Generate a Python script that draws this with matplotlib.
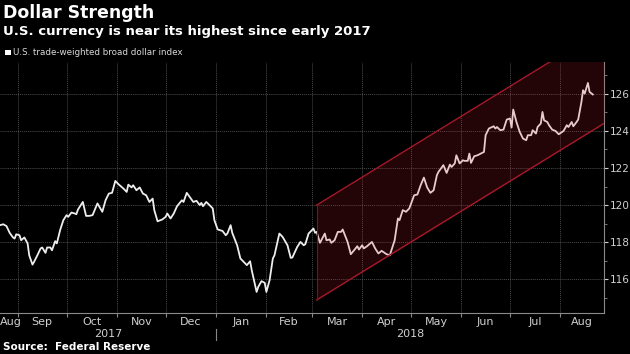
import matplotlib.pyplot as plt
import matplotlib.dates as mdates
import matplotlib.transforms as mtransforms
from matplotlib.lines import Line2D
from matplotlib.patches import Rectangle
import pandas as pd

# U.S. trade-weighted broad dollar index
dates = [
    '2017-08-21', '2017-08-23', '2017-08-25', '2017-08-27', '2017-08-29', '2017-08-30', '2017-08-31',
    '2017-09-02', '2017-09-03', '2017-09-05', '2017-09-07', '2017-09-08', '2017-09-10', '2017-09-11',
    '2017-09-13', '2017-09-15', '2017-09-16', '2017-09-18', '2017-09-19', '2017-09-21', '2017-09-22',
    '2017-09-24', '2017-09-25', '2017-09-27', '2017-09-29', '2017-10-01', '2017-10-02', '2017-10-04',
    '2017-10-06', '2017-10-07', '2017-10-08', '2017-10-11', '2017-10-13', '2017-10-15', '2017-10-17',
    '2017-10-20', '2017-10-23', '2017-10-25', '2017-10-27', '2017-10-29', '2017-10-31', '2017-11-02',
    '2017-11-05', '2017-11-07', '2017-11-08', '2017-11-10', '2017-11-11', '2017-11-13', '2017-11-15',
    '2017-11-17', '2017-11-19', '2017-11-21', '2017-11-23', '2017-11-24', '2017-11-26', '2017-11-29',
    '2017-12-01', '2017-12-02', '2017-12-04', '2017-12-06', '2017-12-08', '2017-12-11', '2017-12-12',
    '2017-12-14', '2017-12-17', '2017-12-18', '2017-12-20', '2017-12-22', '2017-12-23', '2017-12-24',
    '2017-12-26', '2017-12-28', '2017-12-30', '2017-12-31',
    '2018-01-02', '2018-01-05', '2018-01-07', '2018-01-08', '2018-01-10', '2018-01-11', '2018-01-14',
    '2018-01-16', '2018-01-18', '2018-01-20', '2018-01-22', '2018-01-23', '2018-01-26', '2018-01-27',
    '2018-01-29', '2018-01-31', '2018-02-01', '2018-02-03', '2018-02-05', '2018-02-06', '2018-02-09',
    '2018-02-11', '2018-02-14', '2018-02-16', '2018-02-17', '2018-02-20', '2018-02-22', '2018-02-24',
    '2018-02-25', '2018-02-27', '2018-03-02', '2018-03-03', '2018-03-04', '2018-03-06', '2018-03-09',
    '2018-03-10', '2018-03-12', '2018-03-13', '2018-03-15', '2018-03-17', '2018-03-19', '2018-03-20',
    '2018-03-23', '2018-03-25', '2018-03-27', '2018-03-29', '2018-03-30', '2018-04-01', '2018-04-02',
    '2018-04-04', '2018-04-07', '2018-04-09', '2018-04-11', '2018-04-13', '2018-04-16', '2018-04-18',
    '2018-04-21', '2018-04-23', '2018-04-24', '2018-04-26', '2018-04-28', '2018-04-30', '2018-05-03',
    '2018-05-05', '2018-05-07', '2018-05-09', '2018-05-11', '2018-05-13', '2018-05-15', '2018-05-17',
    '2018-05-18', '2018-05-21', '2018-05-23', '2018-05-25', '2018-05-26', '2018-05-28', '2018-05-29',
    '2018-05-31', '2018-06-02', '2018-06-03', '2018-06-05', '2018-06-06', '2018-06-07', '2018-06-09',
    '2018-06-11', '2018-06-13', '2018-06-15', '2018-06-16', '2018-06-18', '2018-06-21', '2018-06-22',
    '2018-06-23', '2018-06-25', '2018-06-27', '2018-06-29', '2018-07-01', '2018-07-02', '2018-07-03',
    '2018-07-05', '2018-07-07', '2018-07-09', '2018-07-11', '2018-07-12', '2018-07-14', '2018-07-15',
    '2018-07-17', '2018-07-18', '2018-07-20', '2018-07-21', '2018-07-22', '2018-07-24', '2018-07-25',
    '2018-07-27', '2018-07-29', '2018-07-31', '2018-08-03', '2018-08-05', '2018-08-06', '2018-08-08',
    '2018-08-09', '2018-08-11', '2018-08-12', '2018-08-14', '2018-08-15', '2018-08-16', '2018-08-18',
    '2018-08-19', '2018-08-21',
]
values = [
    118.92, 118.97, 118.87, 118.50, 118.26, 118.20, 118.43,
    118.38, 118.11, 118.26, 117.94, 117.30, 116.80, 116.95,
    117.30, 117.67, 117.72, 117.43, 117.72, 117.72, 117.57,
    118.06, 117.94, 118.65, 119.19, 119.46, 119.37, 119.60,
    119.55, 119.51, 119.76, 120.17, 119.42, 119.42, 119.46,
    120.09, 119.64, 120.26, 120.62, 120.66, 121.30, 121.12,
    120.89, 120.71, 121.10, 120.95, 121.07, 120.80, 120.95,
    120.62, 120.53, 120.17, 120.35, 119.73, 119.13, 119.23,
    119.37, 119.55, 119.28, 119.55, 119.94, 120.26, 120.17,
    120.66, 120.30, 120.17, 120.23, 120.00, 120.12, 119.94,
    120.17, 120.00, 119.82, 119.19,
    118.69, 118.61, 118.38, 118.47, 118.92, 118.51, 117.84,
    117.13, 116.95, 116.77, 116.98, 116.50, 115.33, 115.60,
    115.91, 115.82, 115.33, 115.96, 117.13, 117.30, 118.47,
    118.29, 117.84, 117.16, 117.18, 117.75, 118.02, 117.84,
    117.90, 118.47, 118.74, 118.51, 118.56, 117.97, 118.47,
    118.11, 118.15, 117.97, 118.11, 118.56, 118.56, 118.69,
    118.02, 117.36, 117.57, 117.79, 117.61, 117.84, 117.67,
    117.79, 118.02, 117.67, 117.40, 117.54, 117.36, 117.30,
    118.11, 119.28, 119.19, 119.73, 119.64, 119.82, 120.53,
    120.57, 121.07, 121.48, 120.95, 120.66, 120.80, 121.61,
    121.79, 122.15, 121.73, 122.18, 122.05, 122.24, 122.68,
    122.24, 122.41, 122.38, 122.38, 122.77, 122.27, 122.63,
    122.68, 122.77, 122.86, 123.76, 124.12, 124.24, 124.12,
    124.20, 124.03, 124.06, 124.60, 124.66, 124.17, 125.14,
    124.47, 123.94, 123.58, 123.49, 123.76, 123.76, 124.03,
    123.85, 124.20, 124.39, 125.01, 124.56, 124.47, 124.30,
    124.06, 123.99, 123.81, 123.99, 124.30, 124.20, 124.47,
    124.24, 124.47, 124.60, 125.55, 126.18, 126.00, 126.57,
    126.09, 125.95,
]

# trend channel drawn on the chart
channel_dates = ['2018-03-04', '2018-08-28']
channel_upper = [120.0, 129.5]
channel_lower = [114.9, 124.4]

x_start, x_end = '2017-08-21', '2018-08-28'
y_ticks = [116, 118, 120, 122, 124, 126]

fig = plt.figure(figsize=(6.3, 3.54), dpi=100, facecolor='black')
ax = fig.add_axes([0.0, 0.116, 0.959, 0.709], facecolor='black')

ax.plot(pd.to_datetime(dates), values, color='#eeeeee', lw=1.3, zorder=3)

cd = pd.to_datetime(channel_dates)
ax.fill_between(cd, channel_lower, channel_upper, color='#d0182e', alpha=0.17, lw=0, zorder=4)
ax.plot(cd, channel_upper, color='#a8182a', lw=1.0, zorder=5)
ax.plot(cd, channel_lower, color='#a8182a', lw=1.0, zorder=5)
ax.plot([cd[0], cd[0]], [channel_lower[0], channel_upper[0]], color='#7a1020', lw=0.8, zorder=5)

xmin, xmax = pd.Timestamp(x_start), pd.Timestamp(x_end)
ax.set_xlim(xmin, xmax)
ax.set_ylim(114.2, 127.7)

# y axis on the right
ax.yaxis.tick_right()
ax.set_yticks(y_ticks)
ax.set_yticks(range(115, 128), minor=True)
ax.tick_params(axis='y', which='major', colors='#cfcfcf', labelsize=7.6, length=3, pad=1)
ax.tick_params(axis='y', which='minor', colors='#888888', length=2)

# months: ticks at boundaries, labels centred on the visible part of each month
bounds = pd.date_range('2017-09-01', '2018-08-01', freq='MS')
ax.set_xticks(bounds)
ax.set_xticklabels([])
edges = [xmin] + list(bounds) + [xmax]
mids = [a + (b - a) / 2 for a, b in zip(edges[:-1], edges[1:])]
mids[0] = mids[0] + pd.Timedelta(days=1)
ax.set_xticks(mids, [m.strftime('%b') for m in mids], minor=True)
ax.tick_params(axis='x', which='major', colors='#888888', length=3)
ax.tick_params(axis='x', which='minor', length=0, colors='#cfcfcf', labelsize=8, pad=3)

ax.grid(True, which='major', color='#4a4a4a', lw=0.7, ls=(0, (1, 1)))

for s in ['top', 'left']:
    ax.spines[s].set_visible(False)
for s in ['right', 'bottom']:
    ax.spines[s].set_color('#8a8a8a')

# year labels
trans = mtransforms.blended_transform_factory(ax.transData, ax.transAxes)
jan = pd.Timestamp('2018-01-01')
ax.text(xmin + (jan - xmin) / 2, -0.085, '2017', transform=trans, ha='center', va='center',
        color='#cfcfcf', fontsize=8)
ax.text(jan + (xmax - jan) / 2, -0.085, '2018', transform=trans, ha='center', va='center',
        color='#cfcfcf', fontsize=8)
ax.add_line(Line2D([mdates.date2num(jan)] * 2, [-0.064, -0.108], transform=trans,
                   color='#888888', lw=0.8, clip_on=False))

# header and footer
fig.text(0.005, 0.962, 'Dollar Strength', color='white', fontsize=12.5, fontweight='bold', va='center')
fig.text(0.005, 0.912, 'U.S. currency is near its highest since early 2017', color='white',
         fontsize=9.5, fontweight='bold', va='center')
fig.patches.append(Rectangle((0.008, 0.844), 0.009, 0.016, transform=fig.transFigure,
                             facecolor='white', edgecolor='none'))
fig.text(0.021, 0.852, 'U.S. trade-weighted broad dollar index', color='#d8d8d8', fontsize=6.3, va='center')
fig.text(0.005, 0.02, 'Source:  Federal Reserve', color='white', fontsize=7.5, fontweight='bold', va='center')

fig.savefig('out.png', dpi=100, facecolor='black')
